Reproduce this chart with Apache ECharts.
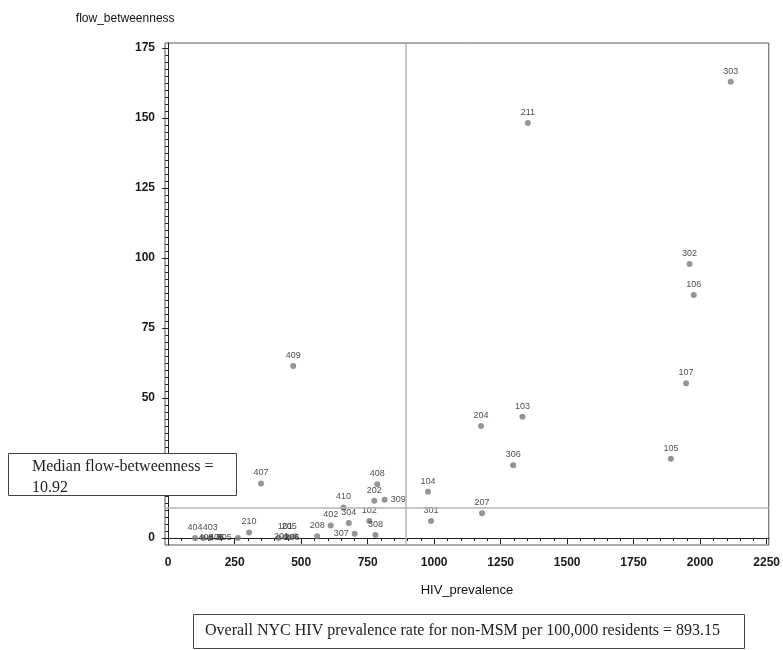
<!DOCTYPE html>
<html>
<head>
<meta charset="utf-8">
<script src="https://cdn.jsdelivr.net/npm/echarts@6/dist/echarts.min.js"></script>
<style>html,body{margin:0;padding:0;background:#fff}#chart{width:783px;height:650px}</style>
</head>
<body>
<div id="chart"></div>
<script>
// ---- data ----
const pointIds   = ['303','211','302','106','107','409','103','204','105','306','407','104','207','301','408','202','309','410','102','308','304','402','307','208','210','305','404','403','405','406','101','205','201','206'];
const hivPrev    = [2115, 1352, 1960, 1976, 1947, 470, 1332, 1176, 1890, 1297, 349, 977, 1180, 988, 786, 775, 814, 659, 756, 779, 679, 611, 701, 560, 304, 262, 101, 158, 193, 131, 440, 455, 477, 415];
const flowBetw   = [163.0, 148.2, 97.9, 86.8, 55.3, 61.4, 43.3, 40.0, 28.3, 26.0, 19.5, 16.5, 8.8, 6.1, 19.2, 13.3, 13.7, 10.9, 6.1, 1.1, 5.4, 4.5, 1.5, 0.6, 2.0, 0.0, 0.0, 0.0, 0.3, 0.0, 0.3, 0.3, 0.6, 0.0];
const medianFlowBetweenness = 10.92;
const nycHivRate = 893.15;
const xTickLabels = [0, 250, 500, 750, 1000, 1250, 1500, 1750, 2000, 2250];
const yTickLabels = [0, 25, 50, 75, 100, 125, 150, 175];

// ---- styling / layout ----
const SANS = "'Liberation Sans',Arial,sans-serif";
const SERIF = "'Liberation Serif','Times New Roman',serif";
const labelSide = {'309':'right','305':'left','307':'left','405':'left','406':'right','201':'left','206':'right'};

const xMinor = [], yMinor = [];
for (let v = 0; v <= 2250; v += 50) if (v % 250) xMinor.push(v);
for (let v = 0; v <= 175; v += 2.5) if (v % 25) yMinor.push(v);

const pts = pointIds.map((id, i) => ({
  value: [hivPrev[i], flowBetw[i]],
  name: id,
  label: { position: labelSide[id] || 'top' }
}));

const axisFont = { fontFamily: SANS, fontSize: 12, fontWeight: 'bold', color: '#1a1a1a', formatter: v => String(v) };
const chart = echarts.init(document.getElementById('chart'), null, { renderer: 'canvas' });
chart.setOption({
  animation: false,
  backgroundColor: '#fff',
  grid: { left: 165, top: 43, width: 604, height: 502, show: true, borderColor: '#555', borderWidth: 1 },
  xAxis: [{
    type: 'value', min: -12, max: 2258,
    name: 'HIV_prevalence', nameLocation: 'middle', nameGap: 39,
    nameTextStyle: { fontFamily: SANS, fontSize: 13, color: '#111' },
    axisLine: { show: true, lineStyle: { color: '#222', width: 1 } },
    axisTick: { show: true, customValues: xTickLabels, length: 6, lineStyle: { color: '#222' } },
    axisLabel: Object.assign({ customValues: xTickLabels, margin: 12 }, axisFont),
    splitLine: { show: false }
  }, {
    type: 'value', min: -12, max: 2258, position: 'bottom',
    axisLine: { show: false },
    axisTick: { show: true, customValues: xMinor, length: 3, lineStyle: { color: '#222' } },
    axisLabel: { show: false }, splitLine: { show: false }
  }],
  yAxis: [{
    type: 'value', min: -2.5, max: 176.8,
    name: 'flow_betweenness', nameLocation: 'end', nameGap: 18,
    nameTextStyle: { fontFamily: SANS, fontSize: 12, color: '#111', align: 'center', padding: [0, 86, 0, 0] },
    axisLine: { show: true, lineStyle: { color: '#222', width: 1 } },
    axisTick: { show: true, customValues: yTickLabels, length: 6, lineStyle: { color: '#222' } },
    axisLabel: Object.assign({ customValues: yTickLabels, margin: 10 }, axisFont),
    splitLine: { show: false }
  }, {
    type: 'value', min: -2.5, max: 176.8, position: 'left',
    axisLine: { show: false },
    axisTick: { show: true, customValues: yMinor, length: 3, lineStyle: { color: '#222' } },
    axisLabel: { show: false }, splitLine: { show: false }
  }],
  series: [{
    type: 'scatter',
    xAxisIndex: 0, yAxisIndex: 0,
    symbol: 'circle', symbolSize: 6,
    itemStyle: { color: '#7a7a7a' },
    label: {
      show: true, formatter: p => p.name, distance: 3,
      fontFamily: SANS, fontSize: 9, color: '#222'
    },
    data: pts,
    z: 3,
    markLine: {
      silent: true, symbol: 'none', animation: false,
      label: { show: false },
      lineStyle: { color: '#b4b4b4', width: 1.5, type: 'solid' },
      data: [{ xAxis: nycHivRate }, { yAxis: medianFlowBetweenness }]
    }
  }],
  graphic: [
    { type: 'rect', z: 100, shape: { x: 8.5, y: 453.5, width: 228, height: 42 },
      style: { fill: '#fff', stroke: '#444', lineWidth: 1 } },
    { type: 'text', z: 101, x: 32, y: 456,
      style: { text: 'Median flow-betweenness =\n10.92', font: '16px ' + SERIF, fill: '#222', lineHeight: 21 } },
    { type: 'rect', z: 100, shape: { x: 193.5, y: 614.5, width: 551, height: 34 },
      style: { fill: '#fff', stroke: '#444', lineWidth: 1 } },
    { type: 'text', z: 101, x: 205, y: 623,
      style: { text: 'Overall NYC HIV prevalence rate for non-MSM per 100,000 residents = 893.15', font: '16px ' + SERIF, fill: '#222' } }
  ]
});
</script>
</body>
</html>
